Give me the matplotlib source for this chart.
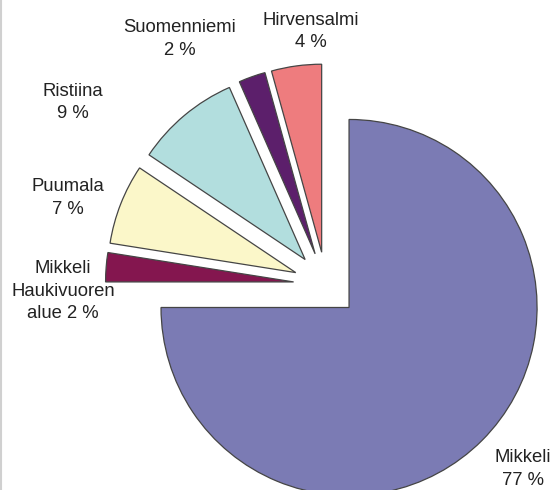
import matplotlib.pyplot as plt
import numpy as np
from matplotlib.lines import Line2D

plt.rcParams['font.family'] = ['Liberation Sans', 'DejaVu Sans']

# kunnat, piirretty myötäpäivään klo 12:sta alkaen
kunnat = ['Mikkeli', 'Mikkeli\nHaukivuoren\nalue', 'Puumala', 'Ristiina',
          'Suomenniemi', 'Hirvensalmi']
# prosentit niin kuin ne on kuvaan kirjoitettu
osuus_teksti = [77, 2, 7, 9, 2, 4]
# sektoreiden koot niin kuin ne on piirretty (%), luettu kulmista
osuus = [75.0, 2.5, 6.9, 9.0, 2.3, 4.3]

varit = ['#7b7bb4', '#84164f', '#fbf7c9', '#b2dede', '#5c1f6b', '#ee7c7e']
erotin = ['\n', ' ', '\n', '\n', '\n', '\n']
# tekstin paikka: (etäisyys keskeltä, kulman siirto sektorin keskikulmasta)
tekstin_paikka = [(1.436, 1.9), (1.40, 6.0), (1.45, 2.9), (1.66, 14.4),
                  (1.52, 11.1), (1.348, -4.3)]

fig = plt.figure(figsize=(5.53, 4.90), dpi=100)
ax = fig.add_axes([0, 0, 1, 1])

wedges, _ = ax.pie(osuus, explode=[0.173] * len(osuus), startangle=90,
                   counterclock=False, colors=varit, radius=1.0,
                   wedgeprops=dict(edgecolor='#454545', linewidth=0.9))

for w, nimi, p, sep, (r, dth) in zip(wedges, kunnat, osuus_teksti, erotin, tekstin_paikka):
    mid = np.deg2rad((w.theta1 + w.theta2) / 2 + dth)
    ax.text(r * np.cos(mid), r * np.sin(mid), '%s%s%d %%' % (nimi, sep, p),
            ha='center', va='center', multialignment='center',
            fontsize=13.3, color='#222222', linespacing=1.42)

ax.set_xlim(-1.734, 1.207)
ax.set_ylim(-1.093, 1.513)
ax.set_aspect('auto')
ax.axis('off')

fig.add_artist(Line2D([0.002, 0.002], [0, 1], color='#d0d0d0', lw=1.5))

fig.savefig('out.png', dpi=100, facecolor='white')
